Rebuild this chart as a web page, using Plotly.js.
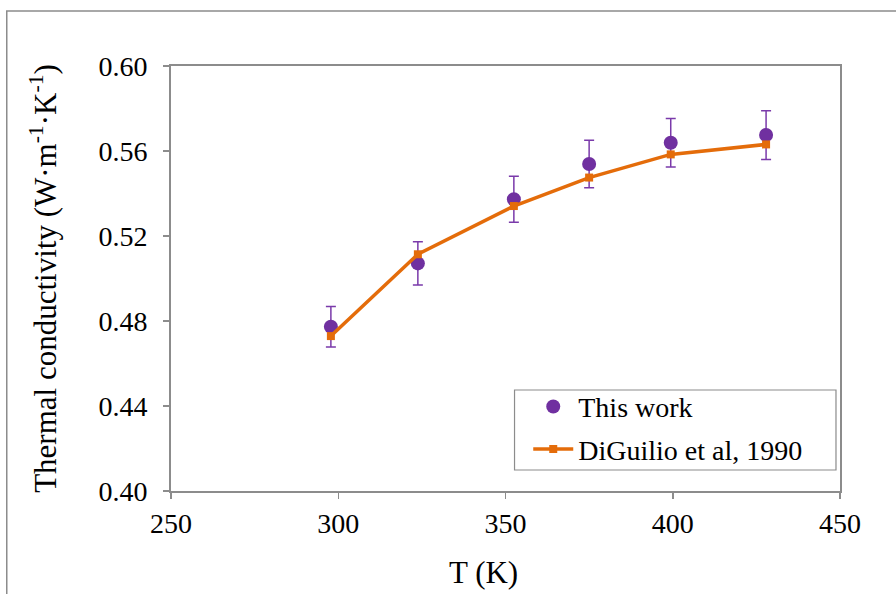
<!DOCTYPE html>
<html>
<head>
<meta charset="utf-8">
<script src="https://cdn.plot.ly/plotly-3.0.1.min.js"></script>
<style>
html,body{margin:0;padding:0;background:#fff;}
#chart{width:896px;height:594px;}
</style>
</head>
<body>
<div id="chart"></div>
<script>
// This work (measured)
const tWork = [297.8, 323.8, 352.5, 375.0, 399.4, 427.9];
const kWork = [0.4773, 0.5071, 0.5373, 0.5539, 0.5639, 0.5675];
const kErr = [0.0095, 0.0102, 0.0108, 0.0112, 0.0114, 0.0115];
// DiGuilio et al, 1990
const tRef = [297.8, 323.8, 352.5, 375.0, 399.4, 427.9];
const kRef = [0.4729, 0.5114, 0.5341, 0.5475, 0.5584, 0.5631];

const xTicks = [250, 300, 350, 400, 450];
const yTicks = [0.40, 0.44, 0.48, 0.52, 0.56, 0.60];

const font = 'Liberation Serif, Times New Roman, serif';

const traces = [
  {
    x: tWork, y: kWork, type: 'scatter', mode: 'markers',
    name: 'This work', legendgroup: 'a',
    marker: {symbol: 'circle', size: 14, color: '#7030A0'},
    error_y: {type: 'data', array: kErr, visible: true, color: '#7A3AAA', thickness: 1.5, width: 5}
  },
  {
    x: tRef, y: kRef, type: 'scatter', mode: 'lines+markers',
    name: 'DiGuilio et al, 1990', legendgroup: 'b',
    line: {color: '#E46C0A', width: 3.5},
    marker: {symbol: 'square', size: 8, color: '#E46C0A'}
  }
];

const layout = {
  width: 896, height: 594,
  margin: {l: 171, r: 56, t: 66, b: 103},
  paper_bgcolor: '#fff', plot_bgcolor: '#fff',
  font: {family: font, size: 28, color: '#000'},
  showlegend: true,
  legend: {
    x: 0.534, y: 0.257, xanchor: 'left', yanchor: 'top',
    bgcolor: 'rgba(0,0,0,0)', borderwidth: 0,
    font: {family: font, size: 28, color: '#000'},
    traceorder: 'grouped', itemwidth: 40,
    tracegroupgap: 3
  },
  xaxis: {
    range: [250, 450], tickvals: xTicks, ticktext: xTicks.map(String),
    showgrid: false, zeroline: false,
    showline: true, linecolor: '#8c8c8c', linewidth: 2, mirror: true,
    ticks: 'outside', ticklen: 6, tickcolor: '#8c8c8c', tickwidth: 1.5,
    tickfont: {family: font, size: 28}
  },
  yaxis: {
    range: [0.40, 0.60], tickvals: yTicks, ticktext: yTicks.map(v => v.toFixed(2)),
    showgrid: false, zeroline: false,
    showline: true, linecolor: '#8c8c8c', linewidth: 2, mirror: true,
    ticks: 'outside', ticklen: 6, tickcolor: '#8c8c8c', tickwidth: 1.5,
    ticklabelstandoff: 10,
    tickfont: {family: font, size: 28},
    title: {text: 'Thermal conductivity (W·m<sup>-1</sup>·K<sup>-1</sup>)', font: {family: font, size: 31}, standoff: 33}
  },
  annotations: [
    {text: 'T (K)', xref: 'paper', yref: 'paper', x: 0.467, y: -0.1906,
     xanchor: 'center', yanchor: 'middle', showarrow: false,
     font: {family: font, size: 31, color: '#000'}}
  ],
  shapes: [
    {type: 'rect', xref: 'paper', yref: 'paper',
     x0: -0.2455, x1: 2, y0: -1, y1: 1.1294,
     line: {color: '#8c8c8c', width: 1.5}, fillcolor: 'rgba(0,0,0,0)', layer: 'below'},
    {type: 'rect', xref: 'paper', yref: 'paper',
     x0: 0.5135, x1: 0.994, y0: 0.0494, y1: 0.2376,
     line: {color: '#8c8c8c', width: 1.2}, fillcolor: '#fff', layer: 'above'}
  ]
};

Plotly.newPlot('chart', traces, layout, {displayModeBar: false, staticPlot: true});
</script>
</body>
</html>
